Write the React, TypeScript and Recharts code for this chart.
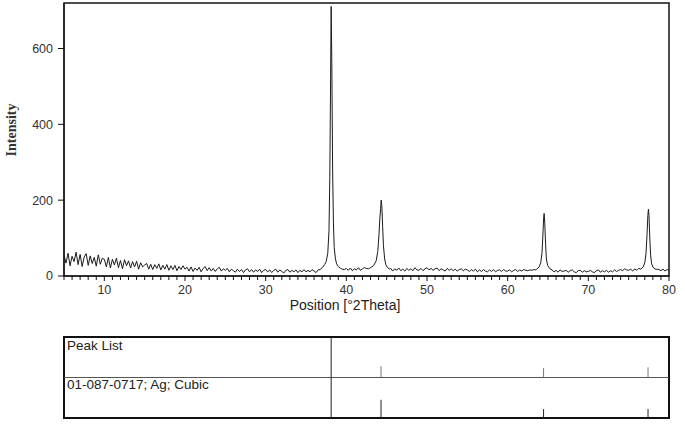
import { LineChart, Line, XAxis, YAxis, ReferenceArea, ReferenceLine } from 'recharts';

// scan background, 5.00 .. 80.00 °2θ in 0.25° steps
const scanStart = 5;
const scanStep = 0.25;
const background = [
  55, 34, 60, 27, 52, 38, 63, 30, 57, 25, 50, 59, 28, 53, 33, 49, 26, 56, 31, 47,
  44, 24, 49, 21, 44, 29, 47, 22, 41, 19, 43, 27, 40, 21, 38, 24, 39, 18, 35, 24,
  29, 33, 18, 31, 17, 30, 20, 32, 16, 28, 18, 30, 15, 27, 17, 28, 14, 25, 17, 27,
  18, 23, 13, 24, 12, 21, 15, 23, 11, 20, 25, 14, 22, 13, 20, 12, 19, 23, 13, 19,
  15, 20, 11, 18, 14, 10, 18, 12, 17, 9, 16, 19, 11, 17, 10, 16, 12, 18, 9, 15,
  17, 11, 16, 9, 15, 18, 10, 16, 12, 8, 15, 17, 10, 15, 11, 16, 9, 15, 11, 17,
  11, 15, 11, 17, 13, 9, 16, 17, 20, 22, 25, 24, 22, 21, 20, 23, 21, 20, 18, 17,
  20, 15, 21, 14, 19, 16, 22, 15, 19, 22, 20, 19, 21, 18, 20, 19, 21, 22, 19, 18,
  18, 14, 20, 13, 19, 15, 21, 14, 18, 13, 20, 15, 19, 14, 22, 16, 15, 20, 14, 19,
  22, 16, 20, 15, 19, 21, 14, 19, 16, 13, 20, 15, 19, 14, 18, 13, 17, 19, 14, 18,
  16, 12, 17, 13, 18, 11, 16, 12, 17, 13, 11, 16, 12, 17, 11, 15, 16, 12, 17, 13,
  13, 16, 11, 15, 17, 12, 16, 13, 17, 15, 14, 16, 15, 17, 16, 15, 17, 16, 18, 16,
  16, 12, 17, 11, 15, 10, 16, 12, 13, 15, 10, 14, 16, 11, 9, 14, 15, 10, 14, 11,
  12, 15, 11, 9, 14, 16, 10, 14, 11, 15, 10, 14, 11, 16, 12, 15, 17, 14, 19, 16,
  15, 18, 13, 19, 15, 20, 18, 17, 16, 18, 17, 16, 18, 17, 18, 17, 14, 18, 13, 17, 15,
];

// finer points around the four reflections [angle, intensity]
const peak111 = [
  [37.0, 22], [37.3, 30], [37.5, 38], [37.7, 60], [37.85, 120], [37.95, 260], [38.05, 520],
  [38.12, 711], [38.2, 560], [38.3, 280], [38.4, 140], [38.5, 75], [38.65, 45], [38.8, 32],
  [39.0, 25], [39.3, 20],
];
const peak200 = [
  [43.0, 22], [43.4, 28], [43.7, 40], [43.9, 65], [44.05, 110], [44.15, 150], [44.25, 178],
  [44.32, 200], [44.4, 186], [44.5, 130], [44.6, 80], [44.75, 45], [44.9, 30], [45.1, 22], [45.4, 18],
];
const peak220 = [
  [63.6, 18], [63.9, 24], [64.1, 35], [64.25, 60], [64.35, 100], [64.45, 150], [64.52, 165],
  [64.6, 140], [64.7, 85], [64.8, 45], [64.95, 28], [65.2, 20], [65.5, 16],
];
const peak311 = [
  [76.5, 18], [76.8, 24], [77.0, 35], [77.15, 60], [77.28, 110], [77.38, 160], [77.45, 176],
  [77.52, 160], [77.62, 100], [77.72, 55], [77.85, 32], [78.05, 22], [78.4, 17],
];
const peaks = [peak111, peak200, peak220, peak311];

// stick patterns (positions and relative heights, %)
const stickPositions = [38.12, 44.3, 64.45, 77.4];
const peakListHeights = [100, 28, 23, 25];
const agRefHeights = [100, 45, 22, 22];

const yTicks = [0, 200, 400, 600];
const xTicks = Array.from({ length: 76 }, (_, i) => 5 + i);

const inPeak = (a: number) => peaks.some((p) => a >= p[0][0] && a <= p[p.length - 1][0]);
const data = [
  ...background
    .map((v, i) => ({ angle: scanStart + i * scanStep, intensity: v }))
    .filter((d) => !inPeak(d.angle)),
  ...peaks.flat().map(([angle, intensity]) => ({ angle, intensity })),
].sort((a, b) => a.angle - b.angle);

const font = '"Liberation Sans", Arial, sans-serif';

function XTick({ x, y, payload }: any) {
  const major = payload.value % 10 === 0;
  return (
    <g>
      <line x1={x} y1={y} x2={x} y2={y + (major ? 5 : 4)} stroke="#111" />
      {major && (
        <text x={x} y={y + 18} textAnchor="middle" fontSize={12.5} fontFamily={font} fill="#333">
          {payload.value}
        </text>
      )}
    </g>
  );
}

export default function App() {
  return (
    <div style={{ position: 'absolute', left: 0, top: 0, width: 685, height: 427, background: '#fff' }}>
      <LineChart width={685} height={316} data={data} margin={{ top: 3, right: 16, bottom: 0, left: 0 }}>
        <XAxis
          dataKey="angle"
          type="number"
          domain={[5, 80]}
          ticks={xTicks}
          interval={0}
          tick={<XTick />}
          tickLine={false}
          tickSize={0}
          tickMargin={0}
          axisLine={{ stroke: '#111' }}
          height={40}
          allowDataOverflow
        />
        <YAxis
          type="number"
          domain={[0, 720]}
          ticks={yTicks}
          width={64}
          tickSize={6}
          tickMargin={5}
          tick={{ fontSize: 12.5, fontFamily: font, fill: '#333' }}
          tickLine={{ stroke: '#111' }}
          axisLine={{ stroke: '#111' }}
          allowDataOverflow
        />
        <ReferenceArea x1={5} x2={80} y1={0} y2={720} fill="none" stroke="#111" strokeWidth={1.5} />
        <Line
          dataKey="intensity"
          type="linear"
          stroke="#1a1a1a"
          strokeWidth={1}
          dot={false}
          isAnimationActive={false}
        />
      </LineChart>

      <div style={{ position: 'absolute', left: 0, top: 333 }}>
        <LineChart width={685} height={90} data={data} margin={{ top: 4, right: 16, bottom: 5, left: 64 }}>
          <XAxis dataKey="angle" type="number" domain={[5, 80]} hide height={0} allowDataOverflow />
          <YAxis type="number" domain={[0, 200]} hide width={0} allowDataOverflow />
          <ReferenceLine y={100} stroke="#555" strokeWidth={1} />
          {stickPositions.map((pos, i) => (
            <ReferenceLine
              key={'pl' + i}
              segment={[{ x: pos, y: 100 }, { x: pos, y: 100 + peakListHeights[i] }]}
              stroke={i === 0 ? '#222' : '#777'}
              strokeWidth={1}
            />
          ))}
          {stickPositions.map((pos, i) => (
            <ReferenceLine
              key={'ag' + i}
              segment={[{ x: pos, y: 0 }, { x: pos, y: agRefHeights[i] }]}
              stroke="#222"
              strokeWidth={1}
            />
          ))}
          <ReferenceArea x1={5} x2={80} y1={0} y2={200} fill="none" stroke="#111" strokeWidth={2} />
          <Line dataKey="intensity" stroke="none" dot={false} isAnimationActive={false} />
        </LineChart>
      </div>

      <div
        style={{
          position: 'absolute',
          left: 12,
          top: 130,
          transform: 'translate(-50%, -50%) rotate(-90deg)',
          fontFamily: '"Liberation Serif", "Times New Roman", serif',
          fontWeight: 'bold',
          fontSize: 14,
          color: '#333',
          whiteSpace: 'nowrap',
        }}
      >
        Intensity
      </div>
      <div
        style={{
          position: 'absolute',
          left: 345,
          top: 298,
          transform: 'translateX(-50%)',
          fontFamily: font,
          fontSize: 14,
          lineHeight: '14px',
          color: '#222',
          whiteSpace: 'nowrap',
        }}
      >
        Position [°2Theta]
      </div>
      <div style={{ position: 'absolute', left: 67, top: 338, fontFamily: font, fontSize: 13.5, color: '#222' }}>
        Peak List
      </div>
      <div style={{ position: 'absolute', left: 67, top: 377, fontFamily: font, fontSize: 13.5, color: '#222' }}>
        01-087-0717; Ag; Cubic
      </div>
    </div>
  );
}
